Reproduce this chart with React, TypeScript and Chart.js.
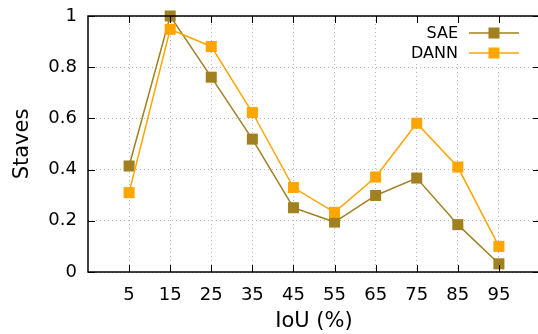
import React, { useEffect, useRef } from "react";
import { Chart, registerables } from "chart.js";

Chart.register(...registerables);

const iouBins = [5, 15, 25, 35, 45, 55, 65, 75, 85, 95];
const saeValues = [0.414, 1.0, 0.761, 0.519, 0.251, 0.195, 0.299, 0.367, 0.185, 0.032];
const dannValues = [0.31, 0.948, 0.881, 0.623, 0.33, 0.233, 0.371, 0.581, 0.41, 0.1];
const yTickValues = [0, 0.2, 0.4, 0.6, 0.8, 1];
const seriesNames = ["SAE", "DANN"];
const seriesColors = ["#A08020", "#FFA500"];
const xTitle = "IoU (%)";
const yTitle = "Staves";

const FONT = "'DejaVu Sans', sans-serif";

const framePlugin = {
  id: "gnuFrame",
  beforeDatasetsDraw(chart: any) {
    const { ctx, chartArea: a } = chart;
    ctx.save();
    // opaque key box
    ctx.fillStyle = "#ffffff";
    ctx.fillRect(403, a.top + 1, a.right - 403 - 1, 62 - a.top);
    ctx.font = `16px ${FONT}`;
    ctx.textAlign = "right";
    ctx.textBaseline = "middle";
    chart.data.datasets.forEach((ds: any, i: number) => {
      const y = 33 + i * 20;
      ctx.fillStyle = "#000";
      ctx.fillText(ds.label, 458, y + 1);
      ctx.strokeStyle = ds.borderColor;
      ctx.lineWidth = 1.5;
      ctx.beginPath();
      ctx.moveTo(469, y);
      ctx.lineTo(519, y);
      ctx.stroke();
      ctx.fillStyle = ds.backgroundColor;
      ctx.fillRect(494 - 5.5, y - 5.5, 11, 11);
    });
    ctx.restore();
  },
  afterDatasetsDraw(chart: any) {
    const { ctx, chartArea: a, scales } = chart;
    ctx.save();
    ctx.strokeStyle = "#000";
    ctx.lineWidth = 1;
    ctx.beginPath();
    for (const t of scales.y.ticks) {
      const y = Math.round(scales.y.getPixelForValue(t.value)) + 0.5;
      ctx.moveTo(a.left, y);
      ctx.lineTo(a.left + 7, y);
      ctx.moveTo(a.right, y);
      ctx.lineTo(a.right - 7, y);
    }
    for (const t of scales.x.ticks) {
      const x = Math.round(scales.x.getPixelForValue(t.value)) + 0.5;
      ctx.moveTo(x, a.bottom);
      ctx.lineTo(x, a.bottom - 7);
      ctx.moveTo(x, a.top);
      ctx.lineTo(x, a.top + 7);
    }
    ctx.stroke();
    ctx.lineWidth = 1.5;
    ctx.strokeRect(a.left, a.top, a.right - a.left, a.bottom - a.top);
    ctx.restore();
  },
};

export default function App() {
  const ref = useRef<HTMLCanvasElement | null>(null);

  useEffect(() => {
    if (!ref.current) return;
    const seriesValues = [saeValues, dannValues];
    const chart = new Chart(ref.current, {
      type: "line",
      data: {
        datasets: seriesNames.map((name, i) => ({
          label: name,
          data: iouBins.map((x, j) => ({ x, y: seriesValues[i][j] })),
          borderColor: seriesColors[i],
          backgroundColor: seriesColors[i],
          borderWidth: 1.5,
          pointStyle: "rect",
          pointRadius: 7.8,
          pointBorderWidth: 0,
          pointBackgroundColor: seriesColors[i],
          tension: 0,
          clip: false as any,
          order: i === 0 ? 1 : 0,
        })),
      },
      options: {
        responsive: false,
        animation: false,
        devicePixelRatio: 1,
        layout: { padding: { top: 16, right: 8, left: 0, bottom: 0 } },
        plugins: { legend: { display: false }, tooltip: { enabled: false } },
        scales: {
          x: {
            type: "linear",
            min: -5,
            max: 105,
            afterBuildTicks: (scale: any) => {
              scale.ticks = iouBins.map((v) => ({ value: v }));
            },
            afterFit: (scale: any) => {
              scale.height = 62;
              scale.paddingLeft = 0;
              scale.paddingRight = 0;
              scale.paddingTop = 0;
              scale.paddingBottom = 0;
            },
            ticks: {
              font: { family: FONT, size: 18 },
              color: "#000",
              padding: 13,
              maxRotation: 0,
              autoSkip: false,
              callback: (v: any) => String(v),
            },
            grid: { color: "#b4b4b4", lineWidth: 1, drawTicks: false },
            border: { display: false, dash: [1, 3] },
            title: {
              display: true,
              text: xTitle,
              font: { family: FONT, size: 21 },
              color: "#000",
              padding: { top: 0, bottom: 0 },
            },
          },
          y: {
            min: 0,
            max: 1,
            afterBuildTicks: (scale: any) => {
              scale.ticks = yTickValues.map((v) => ({ value: v }));
            },
            afterFit: (scale: any) => {
              scale.width = 88;
              scale.paddingLeft = 0;
              scale.paddingRight = 0;
              scale.paddingTop = 0;
              scale.paddingBottom = 0;
            },
            ticks: {
              font: { family: FONT, size: 18 },
              color: "#000",
              padding: 11,
              callback: (v: any) => String(v),
            },
            grid: { color: "#b4b4b4", lineWidth: 1, drawTicks: false },
            border: { display: false, dash: [1, 3] },
            title: {
              display: true,
              text: yTitle,
              font: { family: FONT, size: 21 },
              color: "#000",
              padding: { top: 10, bottom: 0 },
            },
          },
        },
      },
      plugins: [framePlugin],
    });
    return () => chart.destroy();
  }, []);

  return (
    <div
      style={{
        position: "fixed",
        left: 0,
        top: 0,
        width: 538,
        height: 334,
        overflow: "hidden",
        background: "#fff",
      }}
    >
      <canvas ref={ref} width={548} height={334} style={{ display: "block" }} />
    </div>
  );
}
